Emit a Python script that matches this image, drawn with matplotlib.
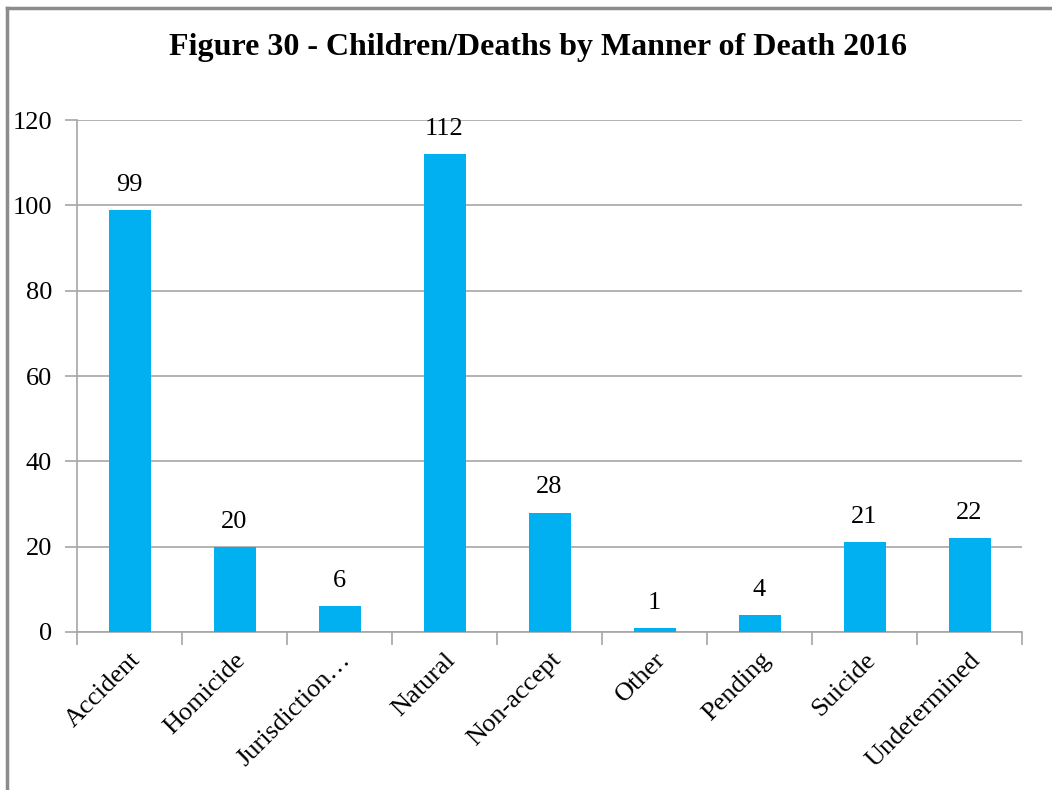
import matplotlib.pyplot as plt
from matplotlib.lines import Line2D
import numpy as np

categorias = ["Accident", "Homicide", "Jurisdiction…", "Natural", "Non-accept",
              "Other", "Pending", "Suicide", "Undetermined"]
valores = [99, 20, 6, 112, 28, 1, 4, 21, 22]
y_ticks = [0, 20, 40, 60, 80, 100, 120]

plt.rcParams['font.family'] = ['Liberation Serif', 'DejaVu Serif']

fig = plt.figure(figsize=(10.52, 7.90), dpi=100)
ax = fig.add_axes([0.0732, 0.2, 0.8983, 0.648])

x = np.arange(len(categorias))
barras = ax.bar(x, valores, width=0.4, color="#00B0F0", zorder=3)
for xi, v in zip(x, valores):
    ax.text(xi, v + 3.3, str(v), ha="center", va="bottom", fontsize=19)

ax.set_xlim(-0.5, len(categorias) - 0.5)
ax.set_ylim(0, 120)
ax.set_yticks(y_ticks)
ax.set_yticklabels([str(t) for t in y_ticks], fontsize=19)
ax.yaxis.grid(True, color="#a6a6a6", linewidth=1.2, zorder=0)
ax.tick_params(axis="y", length=9, color="#a6a6a6", width=1.2, pad=9)

ax.set_xticks(x)
ax.set_xticklabels(categorias, rotation=45, ha="right", rotation_mode="anchor", fontsize=19)
ax.set_xticks(np.arange(len(categorias) + 1) - 0.5, minor=True)
ax.tick_params(axis="x", which="major", length=0, pad=12)
ax.tick_params(axis="x", which="minor", length=9, color="#a6a6a6", width=1.2)

for s in ["top", "right"]:
    ax.spines[s].set_visible(False)
for s in ["left", "bottom"]:
    ax.spines[s].set_color("#a6a6a6")
    ax.spines[s].set_linewidth(1.2)

fig.text(0.511, 0.94, "Figure 30 - Children/Deaths by Manner of Death 2016",
         ha="center", va="center", fontsize=23, fontweight="bold")

# moldura cinza (topo e esquerda)
fig.add_artist(Line2D([7/1052, 1.0], [1 - 8/790, 1 - 8/790], transform=fig.transFigure,
                      color="#8c8c8c", linewidth=2.5))
fig.add_artist(Line2D([7/1052, 7/1052], [0.0, 1 - 8/790], transform=fig.transFigure,
                      color="#8c8c8c", linewidth=2.5))

fig.savefig("out.png", dpi=100)
